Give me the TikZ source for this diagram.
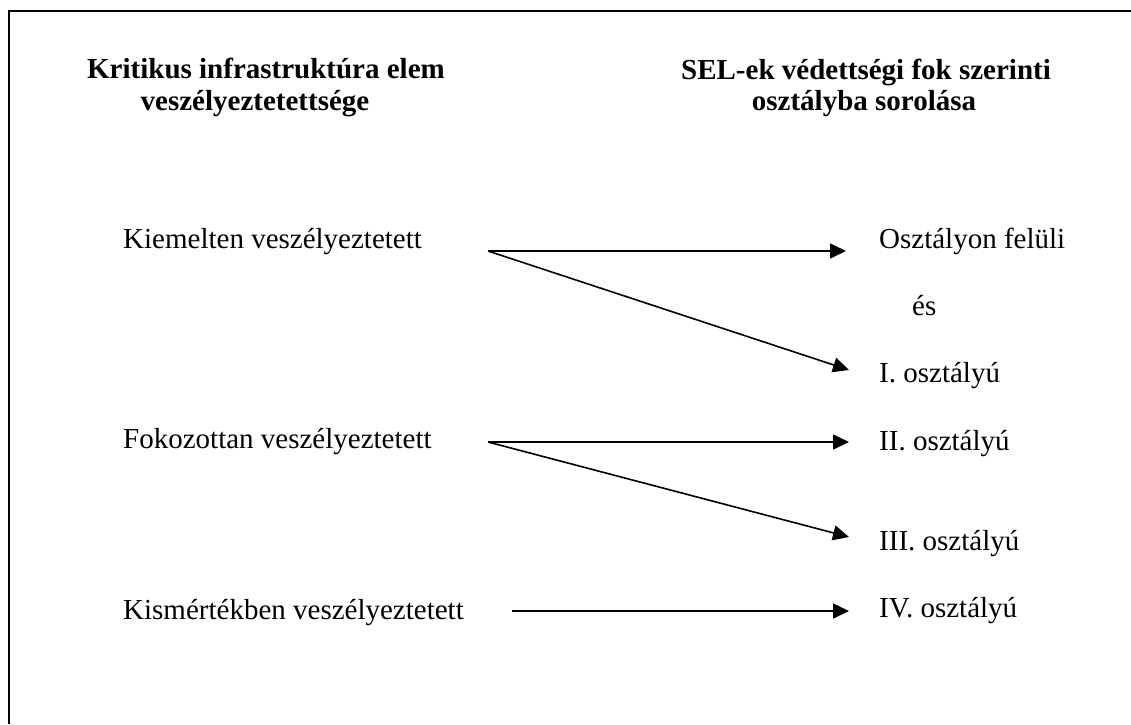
\documentclass[tikz,border=0pt]{standalone}
\usepackage{fontspec}
\setmainfont{Liberation Serif}
\usetikzlibrary{arrows.meta}
\begin{document}
\begin{tikzpicture}[x=1pt,y=-1pt,
  label/.style={anchor=base west,inner sep=0pt,font=\fontsize{29}{33}\selectfont},
  head/.style={anchor=base,inner sep=0pt,font=\fontsize{29}{33}\selectfont\bfseries},
  link/.style={line width=1.6pt,-{Triangle[length=16pt,width=15pt]}}]
  \useasboundingbox (0,0) rectangle (1131,724);
  % frame (left and top sides)
  \draw[line width=2pt] (9,724) -- (9,11) -- (1131,11);

  % column headings
  \node[head] (hl1) at (266,78) {Kritikus infrastruktúra elem};
  \node[head] (hl2) at (255,110) {veszélyeztetettsége};
  \node[head] (hr1) at (866,79) {SEL-ek védettségi fok szerinti};
  \node[head] (hr2) at (864,110) {osztályba sorolása};

  % threat levels
  \node[label] (kiem) at (123,248) {Kiemelten veszélyeztetett};
  \node[label] (foko) at (123,448) {Fokozottan veszélyeztetett};
  \node[label] (kism) at (123,619) {Kismértékben veszélyeztetett};

  % protection classes
  \node[label] (felul) at (879,248) {Osztályon felüli};
  \node[label] (es)    at (912,315) {és};
  \node[label] (c1)    at (879,382) {I. osztályú};
  \node[label] (c2)    at (879,450) {II. osztályú};
  \node[label] (c3)    at (879,550) {III. osztályú};
  \node[label] (c4)    at (879,617) {IV. osztályú};

  % arrow end points
  \coordinate (s1) at (488,251);
  \coordinate (s2) at (488,442);
  \coordinate (s3) at (512,611);
  \coordinate (e0) at (846,251);
  \coordinate (e1) at (849,370);
  \coordinate (e2) at (849,442);
  \coordinate (e3) at (849,537);
  \coordinate (e4) at (849,611);

  \draw[link] (s1) -- (e0);
  \draw[link] (s1) -- (e1);
  \draw[link] (s2) -- (e2);
  \draw[link] (s2) -- (e3);
  \draw[link] (s3) -- (e4);
\end{tikzpicture}
\end{document}
